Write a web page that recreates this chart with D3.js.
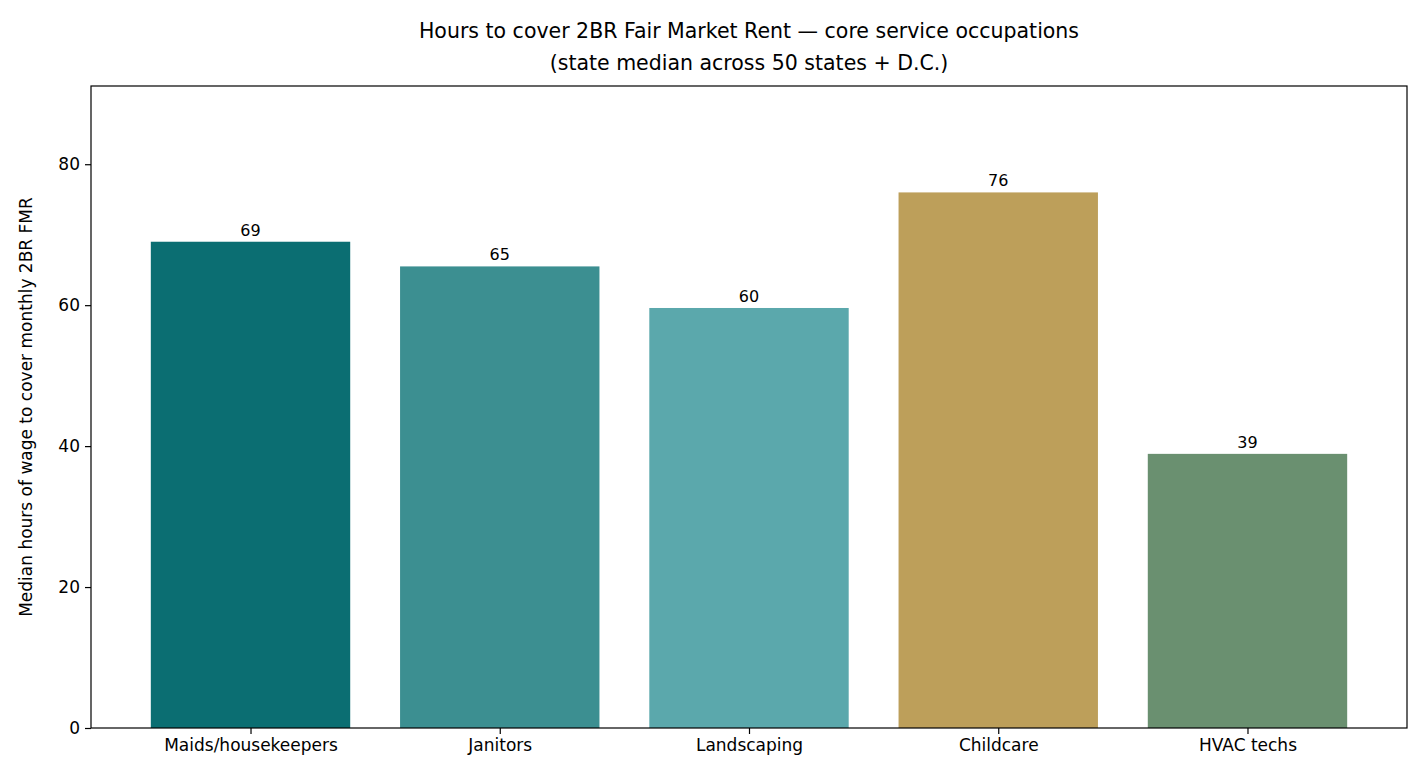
<!DOCTYPE html><html><head><meta charset="utf-8"><script src="https://d3js.org/d3.v7.min.js"></script>
<style>body{margin:0;background:#fff}text{font-family:"DejaVu Sans",sans-serif}</style></head><body>
<svg id="c" width="1422" height="783"></svg>
<script>
const categories=["Maids/housekeepers","Janitors","Landscaping","Childcare","HVAC techs"];
const values=[69.0,65.5,59.6,76.0,38.9];
const labels=["69","65","60","76","39"];
const colors=["#0b6e72","#3c8f91","#5ba8ac","#bd9f5a","#6a9070"];
const yTicks=[0,20,40,60,80];
const svg=d3.select("#c");
const L=91,R=1407,T=86,B=728;
const x=d3.scaleLinear().domain([-0.64,4.64]).range([L,R]);
const y=d3.scaleLinear().domain([0,91.1]).range([B,T]);
const bw=x(0.4)-x(-0.4);
svg.selectAll("rect.bar").data(values).join("rect").attr("x",(d,i)=>x(i)-bw/2).attr("width",bw)
 .attr("y",d=>y(d)).attr("height",d=>B-y(d)).attr("fill",(d,i)=>colors[i]);
svg.selectAll("text.lab").data(values).join("text").attr("x",(d,i)=>x(i)).attr("y",d=>y(d)-6)
 .attr("text-anchor","middle").attr("font-size",16).text((d,i)=>labels[i]);
svg.append("rect").attr("x",L).attr("y",T).attr("width",R-L).attr("height",B-T).attr("fill","none").attr("stroke","#000").attr("stroke-width",1.2);
const ya=svg.append("g").attr("transform",`translate(${L},0)`).call(d3.axisLeft(y).tickValues(yTicks).tickSize(6).tickPadding(5));
const xa=svg.append("g").attr("transform",`translate(0,${B})`).call(d3.axisBottom(x).tickValues(d3.range(5)).tickFormat(i=>categories[i]).tickSize(6).tickPadding(5));
[ya,xa].forEach(a=>{a.select(".domain").remove();a.selectAll("text").attr("font-size",17).attr("fill","#000").style("font-family","DejaVu Sans");a.selectAll("line").attr("stroke","#000").attr("stroke-width",1.2);});
svg.append("text").attr("transform",`translate(32,${(T+B)/2}) rotate(-90)`).attr("text-anchor","middle").attr("font-size",17).text("Median hours of wage to cover monthly 2BR FMR");
svg.append("text").attr("x",(L+R)/2).attr("y",38).attr("text-anchor","middle").attr("font-size",20.5).text("Hours to cover 2BR Fair Market Rent — core service occupations");
svg.append("text").attr("x",(L+R)/2).attr("y",70).attr("text-anchor","middle").attr("font-size",20.5).text("(state median across 50 states + D.C.)");
</script></body></html>
